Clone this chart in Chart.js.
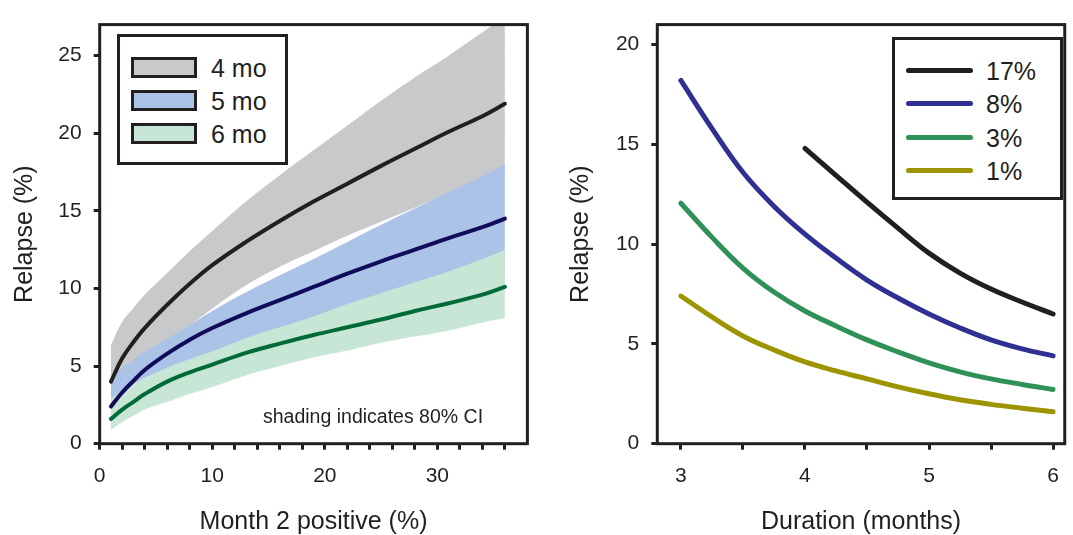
<!DOCTYPE html>
<html>
<head>
<meta charset="utf-8">
<script src="https://cdn.jsdelivr.net/npm/chart.js@4.4.1/dist/chart.umd.min.js"></script>
<style>
  body { margin: 0; background: #fff; overflow: hidden; }
  #wrap { position: relative; width: 1073px; height: 535px; font-family: 'Liberation Sans', Arial, Helvetica, sans-serif; color: #231f20; }
  canvas { position: absolute; top: 0; }
  .legend { position: absolute; border: 3px solid #231f20; box-sizing: border-box; background: #fff; }
  .row { position: absolute; left: 0; height: 34px; line-height: 34px; font-size: 25px; white-space: nowrap; }
  .swatch { position: absolute; border: 3px solid #231f20; box-sizing: border-box; width: 66px; height: 21px; top: 6px; }
  .stroke { position: absolute; width: 67px; height: 5px; border-radius: 3px; top: 14px; }
  .note { position: absolute; font-size: 19.5px; white-space: nowrap; line-height: 24px; }
</style>
</head>
<body>
<div id="wrap">
  <canvas id="left" width="540" height="535" style="left:0"></canvas>
  <canvas id="right" width="533" height="535" style="left:540px"></canvas>

  <div class="legend" style="left:117px; top:34px; width:171px; height:131px;">
    <div class="row" style="top:14px;"><div class="swatch" style="left:11px; background:#c8c9cb"></div><span style="position:absolute; left:91px">4 mo</span></div>
    <div class="row" style="top:47px;"><div class="swatch" style="left:11px; background:#aac3e6"></div><span style="position:absolute; left:91px">5 mo</span></div>
    <div class="row" style="top:80px;"><div class="swatch" style="left:11px; background:#c8e6d6"></div><span style="position:absolute; left:91px">6 mo</span></div>
  </div>

  <div class="legend" style="left:892px; top:37px; width:171px; height:163px;">
    <div class="row" style="top:14px;"><div class="stroke" style="left:11px; background:#231f20"></div><span style="position:absolute; left:91px">17%</span></div>
    <div class="row" style="top:47px;"><div class="stroke" style="left:11px; background:#2e3192"></div><span style="position:absolute; left:91px">8%</span></div>
    <div class="row" style="top:81px;"><div class="stroke" style="left:11px; background:#2f9158"></div><span style="position:absolute; left:91px">3%</span></div>
    <div class="row" style="top:114px;"><div class="stroke" style="left:11px; background:#9c9400"></div><span style="position:absolute; left:91px">1%</span></div>
  </div>

  <div class="note" style="left:263px; top:404px;">shading indicates 80% CI</div>
</div>

<script>
'use strict';

// left panel: relapse vs month 2 positive, by regimen duration
var m2pos = [1, 2, 3, 4, 6, 8, 10, 13, 16, 19, 22, 25, 28, 31, 34, 36];
var mean4 = [4.0, 5.5, 6.55, 7.45, 8.95, 10.3, 11.5, 13.0, 14.35, 15.6, 16.75, 17.9, 19.0, 20.1, 21.1, 21.9];
var hi4   = [6.35, 7.85, 8.75, 9.6, 11.0, 12.4, 13.7, 15.6, 17.3, 18.9, 20.5, 22.1, 23.6, 25.0, 26.5, 27.5];
var lo4   = [3.0, 3.9, 4.6, 5.3, 6.4, 7.6, 8.7, 10.2, 11.4, 12.4, 13.4, 14.3, 15.2, 16.1, 17.0, 17.6];
var mean5 = [2.4, 3.3, 4.05, 4.75, 5.8, 6.7, 7.45, 8.4, 9.25, 10.1, 10.95, 11.75, 12.5, 13.25, 13.95, 14.5];
var hi5   = [4.3, 4.9, 5.4, 5.95, 6.75, 7.65, 8.55, 9.75, 10.85, 11.9, 13.0, 14.1, 15.15, 16.2, 17.25, 18.0];
var lo5   = [1.8, 2.6, 3.1, 3.5, 4.2, 4.8, 5.3, 6.0, 6.7, 7.3, 7.9, 8.5, 9.1, 9.7, 10.3, 10.7];
var mean6 = [1.6, 2.2, 2.7, 3.2, 4.0, 4.6, 5.1, 5.85, 6.45, 7.0, 7.5, 8.0, 8.55, 9.05, 9.6, 10.1];
var hi6   = [2.9, 3.4, 3.85, 4.25, 4.9, 5.45, 5.95, 6.8, 7.5, 8.2, 9.0, 9.7, 10.4, 11.1, 11.9, 12.5];
var lo6   = [0.9, 1.4, 1.8, 2.2, 2.7, 3.2, 3.65, 4.4, 5.0, 5.55, 6.0, 6.5, 6.9, 7.3, 7.8, 8.1];

var xTicksL = [0, 2, 4, 6, 8, 10, 12, 14, 16, 18, 20, 22, 24, 26, 28, 30, 32, 34, 36];
var yTicksL = [0, 5, 10, 15, 20, 25];

// right panel: relapse vs duration, by month 2 positive rate
var duration = [3, 3.25, 3.5, 3.75, 4, 4.25, 4.5, 4.75, 5, 5.25, 5.5, 5.75, 6];
var pos17 = [null, null, null, null, 14.8, 13.45, 12.1, 10.8, 9.55, 8.55, 7.75, 7.1, 6.5];
var pos8  = [18.2, 15.8, 13.6, 11.9, 10.5, 9.3, 8.2, 7.3, 6.5, 5.8, 5.2, 4.75, 4.4];
var pos3  = [12.05, 10.35, 8.8, 7.6, 6.65, 5.9, 5.2, 4.6, 4.05, 3.6, 3.25, 2.97, 2.72];
var pos1  = [7.4, 6.35, 5.4, 4.7, 4.1, 3.65, 3.25, 2.85, 2.5, 2.2, 1.97, 1.78, 1.6];

var xTicksR = [3, 3.5, 4, 4.5, 5, 5.5, 6];
var yTicksR = [0, 5, 10, 15, 20];

var ink = '#231f20';
var family = "'Liberation Sans', Arial, Helvetica, sans-serif";

Chart.defaults.font.family = family;
Chart.defaults.color = ink;

function pts(xs, ys) {
    return xs.map(function(x, i) { return { x: x, y: ys[i] }; })
             .filter(function(p) { return p.y !== null; });
}

function band(xs, ys, fillColor, order) {
    return {
        data: pts(xs, ys),
        borderWidth: 0,
        borderColor: 'rgba(0,0,0,0)',
        backgroundColor: fillColor || 'rgba(0,0,0,0)',
        pointRadius: 0,
        fill: fillColor ? '+1' : false,
        order: order,
        tension: 0.4
    };
}

function line(xs, ys, color, width) {
    return {
        data: pts(xs, ys),
        borderColor: color,
        borderWidth: width,
        borderCapStyle: 'round',
        borderJoinStyle: 'round',
        pointRadius: 0,
        fill: false,
        order: 0,
        tension: 0.4
    };
}

var framePlugin = {
    id: 'frame',
    afterDraw: function(chart) {
        var a = chart.chartArea, ctx = chart.ctx;
        ctx.save();
        ctx.strokeStyle = ink;
        ctx.lineWidth = 3;
        ctx.strokeRect(a.left, a.top, a.right - a.left, a.bottom - a.top);
        ctx.restore();
    }
};

function axes(o) {
    return {
        x: {
            type: 'linear', min: o.xMin, max: o.xMax,
            afterBuildTicks: function(axis) { axis.ticks = o.xTicks.map(function(v) { return { value: v }; }); },
            afterFit: function(axis) { axis.height = 91.3; },
            grid: { drawOnChartArea: false, drawTicks: true, tickLength: 6, tickWidth: 3, tickColor: ink },
            border: { display: false },
            ticks: {
                autoSkip: false, maxRotation: 0, padding: 14, color: ink,
                font: { size: 21 },
                callback: o.xLabel
            },
            title: { display: true, text: o.xTitle, color: ink, font: { size: 25, lineHeight: 1.0 }, padding: { top: 0, bottom: 0 } }
        },
        y: {
            type: 'linear', min: o.yMin, max: o.yMax,
            afterBuildTicks: function(axis) { axis.ticks = o.yTicks.map(function(v) { return { value: v }; }); },
            afterFit: function(axis) { axis.width = o.yWidth; },
            grid: { drawOnChartArea: false, drawTicks: true, tickLength: 6, tickWidth: 3, tickColor: ink },
            border: { display: false },
            ticks: { autoSkip: false, padding: 12, color: ink, font: { size: 21 } },
            title: { display: true, text: 'Relapse (%)', color: ink, font: { size: 25, lineHeight: 1.2 }, padding: { top: o.titlePad, bottom: 0 } }
        }
    };
}

new Chart(document.getElementById('left'), {
    type: 'line',
    data: {
        datasets: [
            band(m2pos, hi4, '#c8c9cb', 3),
            band(m2pos, lo4, null, 3),
            band(m2pos, hi5, '#aac3e6', 2),
            band(m2pos, lo5, null, 2),
            band(m2pos, hi6, '#c8e6d6', 1),
            band(m2pos, lo6, null, 1),
            line(m2pos, mean4, '#231f20', 4),
            line(m2pos, mean5, '#0f0c5c', 4),
            line(m2pos, mean6, '#006b36', 4)
        ]
    },
    options: {
        responsive: false,
        animation: false,
        layout: { padding: { top: 15.4, right: 12.6, bottom: 0, left: 0 } },
        plugins: { legend: { display: false }, tooltip: { enabled: false } },
        scales: axes({
            xMin: 0, xMax: 38, xTicks: xTicksL,
            xLabel: function(v) { return v % 10 === 0 ? String(v) : ''; },
            xTitle: 'Month 2 positive (%)',
            yMin: 0, yMax: 27, yTicks: yTicksL, yWidth: 99.7, titlePad: 10
        })
    },
    plugins: [framePlugin]
});

new Chart(document.getElementById('right'), {
    type: 'line',
    data: {
        datasets: [
            line(duration, pos17, '#231f20', 5),
            line(duration, pos8, '#2e3192', 5),
            line(duration, pos3, '#2f9158', 5),
            line(duration, pos1, '#9c9400', 5)
        ]
    },
    options: {
        responsive: false,
        animation: false,
        layout: { padding: { top: 15.4, right: 2.8, bottom: 0, left: 0 } },
        plugins: { legend: { display: false }, tooltip: { enabled: false } },
        scales: axes({
            xMin: 2.81, xMax: 6.094, xTicks: xTicksR,
            xLabel: function(v) { return v % 1 === 0 ? String(v) : ''; },
            xTitle: 'Duration (months)',
            yMin: 0, yMax: 21, yTicks: yTicksR, yWidth: 117.3, titlePad: 26
        })
    },
    plugins: [framePlugin]
});
</script>
</body>
</html>
